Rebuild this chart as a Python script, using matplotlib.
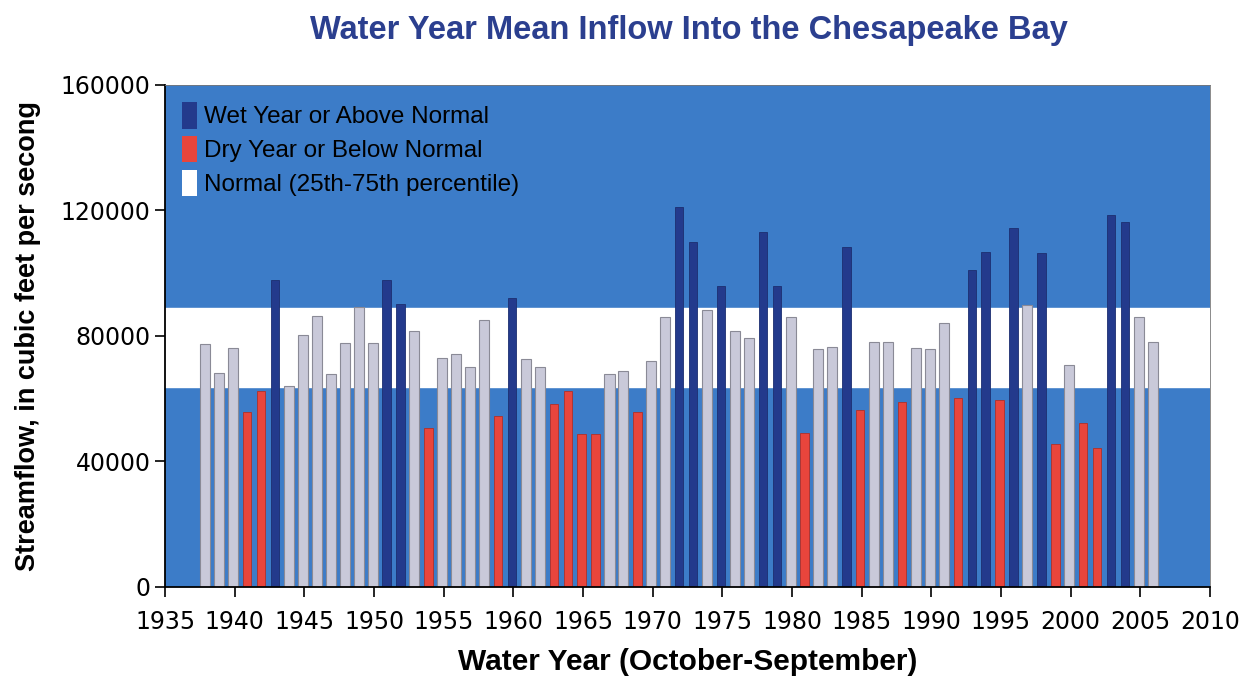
import matplotlib.pyplot as plt
from matplotlib.patches import Patch

years = list(range(1938, 2007))
flow = [77300, 68200, 76200, 55600, 62400, 97700, 64000, 80300, 86400, 67700,
        77900, 89200, 77900, 97700, 90200, 81600, 50800, 73100, 74300, 70200,
        85200, 54400, 92000, 72500, 70200, 58200, 62400, 48700, 48700, 67700,
        68900, 55800, 72000, 85900, 121200, 109800, 88300, 96000, 81600, 79400,
        113100, 96000, 85900, 49200, 75700, 76400, 108200, 56300, 78100, 78100,
        59000, 76300, 75700, 84200, 60100, 101000, 106800, 59500, 114300, 89800,
        106300, 45500, 70700, 52300, 44400, 118700, 116400, 85900, 78100]
# class: w = wet/above normal, d = dry/below normal, n = normal
kind = ("nnnddwnnnnnnnwwndnnnndwnnddddnndnnwwnwnnwwndnnwdnndnnndwwdwnwdnddwwnn")

normal_lo = 63800
normal_hi = 89000

title = "Water Year Mean Inflow Into the Chesapeake Bay"
xlab = "Water Year (October-September)"
ylab = "Streamflow, in cubic feet per secong"
legend_labels = ["Wet Year or Above Normal", "Dry Year or Below Normal",
                 "Normal (25th-75th percentile)"]

blue_bg = "#3c7cc8"
wet_c = "#233a8c"
dry_c = "#e8453c"
norm_c = "#c9c9d9"

fig = plt.figure(figsize=(12.41, 6.8), dpi=100)
ax = fig.add_axes([0.133, 0.137, 0.842, 0.738])

ax.set_facecolor(blue_bg)
ax.axhspan(normal_lo, normal_hi, color="white", zorder=0)

for y, v, k in zip(years, flow, kind):
    if k == "w":
        ax.bar(y - 0.1, v, width=0.6, color=wet_c, edgecolor="#1c2e70", linewidth=0.6, zorder=2)
    elif k == "d":
        ax.bar(y - 0.1, v, width=0.6, color=dry_c, edgecolor="#b03028", linewidth=0.6, zorder=2)
    else:
        ax.bar(y - 0.1, v, width=0.72, color=norm_c, edgecolor="#8a8a96", linewidth=0.8, zorder=2)

ax.set_xlim(1935, 2010)
ax.set_ylim(0, 160000)
ax.set_xticks(range(1935, 2011, 5))
ax.set_yticks(range(0, 160001, 40000))
ax.tick_params(axis="both", labelsize=17, length=7, width=1.2, direction="out")
ax.tick_params(axis="x", pad=10)
for s in ["top", "right"]:
    ax.spines[s].set_color("#777777")
    ax.spines[s].set_linewidth(0.6)
for s in ["left", "bottom"]:
    ax.spines[s].set_linewidth(1.3)

fig.suptitle(title, x=0.555, y=0.978, fontsize=23.5, fontweight="bold", color="#2b3f8f",
             family="Liberation Sans")
ax.set_xlabel(xlab, fontsize=21.5, fontweight="bold", labelpad=10, family="Liberation Sans")
ax.set_ylabel(ylab, fontsize=19.5, fontweight="bold", labelpad=14, family="Liberation Sans")

handles = [Patch(facecolor=wet_c, edgecolor="none"),
           Patch(facecolor=dry_c, edgecolor="none"),
           Patch(facecolor="white", edgecolor="none")]
leg = ax.legend(handles, legend_labels, loc="upper left", frameon=False,
                handlelength=0.6, handleheight=1.3, handletextpad=0.3, labelspacing=0.3,
                borderaxespad=0.3, borderpad=0.4,
                prop={"family": "Liberation Sans", "size": 17.5})

fig.savefig("out.png", dpi=100)
